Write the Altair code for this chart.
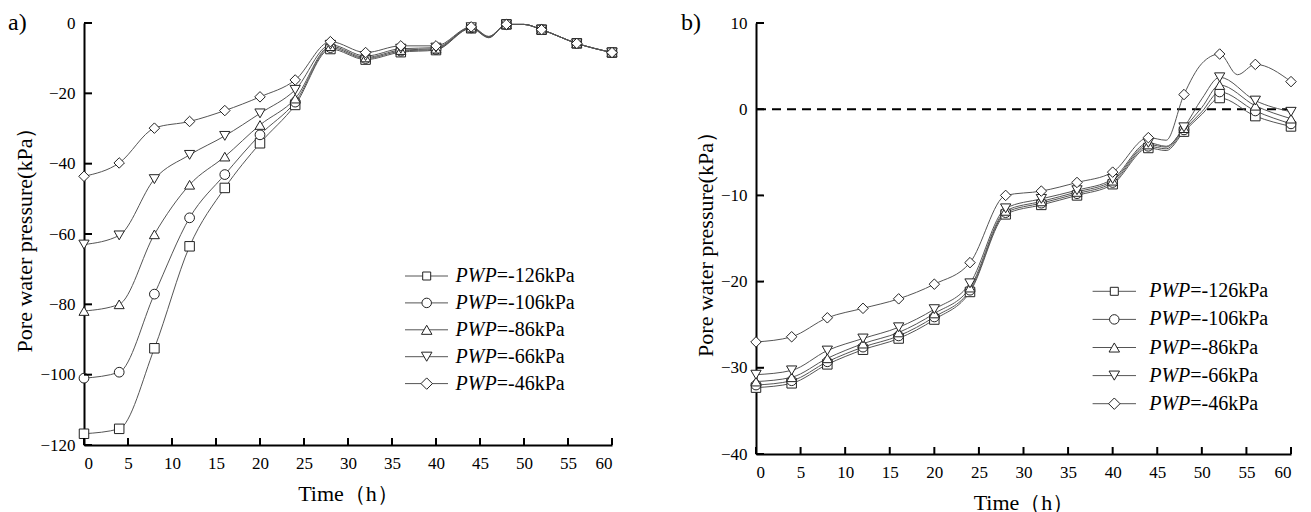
import altair as alt
import pandas as pd

SERIES = ["PWP=-126kPa", "PWP=-106kPa", "PWP=-86kPa", "PWP=-66kPa", "PWP=-46kPa"]
SHAPES = ["square", "circle", "triangle-up", "triangle-down", "diamond"]

X_TICKS = [0, 5, 10, 15, 20, 25, 30, 35, 40, 45, 50, 55, 60]
A_Y_TICKS = [0, -20, -40, -60, -80, -100, -120]
B_Y_TICKS = [10, 0, -10, -20, -30, -40]

# panel a)
TIME_A = [0, 4, 8, 12, 16, 20, 24, 28, 32, 36, 40, 44, 46, 48, 50, 52, 56, 60]
A_126 = [-116.8, -115.4, -92.5, -63.5, -46.9, -34.2, -23.3, -7.4, -10.4, -8.3, -7.7, -1.5, -4.2, -0.4, -0.4, -1.9, -5.8, -8.4]
A_106 = [-101.0, -99.3, -77.1, -55.4, -43.1, -31.8, -22.5, -7.0, -10.1, -8.0, -7.5, -1.4, -4.1, -0.4, -0.4, -1.9, -5.8, -8.4]
A_86 = [-81.9, -80.0, -60.1, -46.0, -38.0, -29.0, -21.5, -6.6, -9.8, -7.7, -7.3, -1.3, -4.0, -0.4, -0.4, -1.9, -5.8, -8.4]
A_66 = [-63.0, -60.4, -44.4, -37.5, -32.1, -25.7, -19.0, -6.2, -9.4, -7.3, -7.0, -1.2, -3.9, -0.4, -0.4, -1.9, -5.8, -8.4]
A_46 = [-43.6, -39.8, -29.9, -28.0, -24.9, -21.0, -16.2, -5.3, -8.4, -6.5, -6.5, -1.1, -3.8, -0.4, -0.4, -1.9, -5.8, -8.4]

# panel b)
TIME_B = [0, 4, 8, 12, 16, 20, 24, 28, 32, 36, 40, 44, 46, 48, 50, 52, 54, 56, 60]
B_126 = [-32.3, -31.8, -29.6, -27.9, -26.6, -24.4, -21.2, -12.2, -11.1, -10.0, -8.7, -4.5, -4.8, -2.6, -0.6, 1.3, None, -0.8, -2.0]
B_106 = [-32.0, -31.5, -29.3, -27.6, -26.3, -24.1, -21.0, -12.0, -10.9, -9.8, -8.5, -4.3, -4.6, -2.4, -0.3, 2.0, None, -0.2, -1.7]
B_86 = [-31.6, -31.1, -28.9, -27.2, -25.9, -23.7, -20.7, -11.8, -10.7, -9.6, -8.3, -4.1, -4.4, -2.2, 0.2, 2.8, None, 0.4, -1.1]
B_66 = [-30.8, -30.3, -28.0, -26.6, -25.3, -23.2, -20.2, -11.5, -10.4, -9.4, -8.1, -3.9, -4.3, -2.1, 1.2, 3.7, None, 1.0, -0.3]
B_46 = [-27.0, -26.4, -24.2, -23.1, -22.0, -20.3, -17.8, -10.0, -9.5, -8.5, -7.3, -3.3, -3.6, 1.7, 5.3, 6.4, 4.0, 5.2, 3.2]

SERIF = "Liberation Serif"
LINE_COLOR = "#555555"
PLOT_SIZES = [90, 110, 150, 150, 150]
LEG_SIZES = [64, 90, 110, 110, 130]
MINUS_EXPR = "replace(format(datum.value, 'd'), '-', '\u2212')"


def long_df(times, cols):
    rows = []
    for i, vals in enumerate(cols):
        for t, v in zip(times, vals):
            if v is None:
                continue
            rows.append({"t": t, "v": v, "s": SERIES[i], "o": i, "mk": t % 4 == 0})
    return pd.DataFrame(rows)


ONE = pd.DataFrame({"k": [0]})


def panel(df, ydom, yticks, W, H, tag, title_x, leg, zero_line=False):
    xs = alt.Scale(domain=[0, 60], nice=False)
    ys = alt.Scale(domain=ydom, nice=False)
    x_axis = alt.Axis(values=X_TICKS, ticks=False, labelPadding=10, title="Time（h）",
                      titleY=55, titleBaseline="alphabetic", labelExpr=MINUS_EXPR)
    y_axis = alt.Axis(values=yticks, ticks=False, labelPadding=9,
                      title="Pore water pressure(kPa）", titleX=title_x, titleY=H / 2,
                      titleBaseline="alphabetic", titleAngle=-90, labelExpr=MINUS_EXPR)

    layers = []
    if zero_line:
        layers.append(
            alt.Chart(pd.DataFrame({"v": [0]})).mark_rule(
                color="black", strokeWidth=2, strokeDash=[9, 6]
            ).encode(y=alt.Y("v:Q", scale=ys, axis=y_axis))
        )
    lines = alt.Chart(df).mark_line(interpolate="monotone", strokeWidth=1).encode(
        x=alt.X("t:Q", scale=xs, axis=x_axis),
        y=alt.Y("v:Q", scale=ys, axis=y_axis),
        color=alt.Color("s:N", scale=alt.Scale(domain=SERIES, range=[LINE_COLOR] * 5), legend=None),
        detail="s:N",
    )
    pts = alt.Chart(df).transform_filter("datum.mk").mark_point(
        filled=True, fill="white", stroke="#222222", strokeWidth=1, opacity=1
    ).encode(
        x=alt.X("t:Q", scale=xs, axis=x_axis),
        y=alt.Y("v:Q", scale=ys, axis=y_axis),
        shape=alt.Shape("s:N", scale=alt.Scale(domain=SERIES, range=SHAPES), legend=None),
        size=alt.Size("o:O", scale=alt.Scale(domain=[0, 1, 2, 3, 4], range=PLOT_SIZES), legend=None),
        order=alt.Order("o:Q"),
    )
    xt = alt.Chart(pd.DataFrame({"t": X_TICKS})).mark_rule(color="black", strokeWidth=2).encode(
        x=alt.X("t:Q", scale=xs, axis=x_axis), y=alt.value(H), y2=alt.value(H - 7)
    )
    yt = alt.Chart(pd.DataFrame({"v": yticks})).mark_rule(color="black", strokeWidth=2).encode(
        y=alt.Y("v:Q", scale=ys, axis=y_axis), x=alt.value(0), x2=alt.value(8)
    )
    layers += [lines, pts, xt, yt]

    # tag a) / b)
    layers.append(
        alt.Chart(ONE).mark_text(align="left", baseline="top", font=SERIF, fontSize=24, color="black").encode(
            x=alt.value(tag[1]), y=alt.value(-12), text=alt.value(tag[0])
        )
    )

    # legend
    lx1, lx2, mx, sep, ly0, dy = leg
    for i, name in enumerate(SERIES):
        ry = ly0 + i * dy
        ital, rest = name.split("=", 1)
        layers.append(alt.Chart(ONE).mark_rule(color=LINE_COLOR, strokeWidth=1).encode(
            x=alt.value(lx1), x2=alt.value(lx2), y=alt.value(ry)))
        layers.append(alt.Chart(ONE).mark_point(
            filled=True, fill="white", stroke="#222222", strokeWidth=1, opacity=1
        ).encode(x=alt.value(mx), y=alt.value(ry), shape=alt.value(SHAPES[i]), size=alt.value(LEG_SIZES[i])))
        layers.append(alt.Chart(ONE).mark_text(
            align="right", baseline="middle", font=SERIF, fontSize=20, fontStyle="italic", color="black"
        ).encode(x=alt.value(sep), y=alt.value(ry), text=alt.value(ital)))
        layers.append(alt.Chart(ONE).mark_text(
            align="left", baseline="middle", font=SERIF, fontSize=20, color="black"
        ).encode(x=alt.value(sep), y=alt.value(ry), text=alt.value("=" + rest)))

    return alt.layer(*layers).properties(width=W, height=H)


df_a = long_df(TIME_A, [A_126, A_106, A_86, A_66, A_46])
df_b = long_df(TIME_B, [B_126, B_106, B_86, B_66, B_46])

left = panel(df_a, [-120, 0], A_Y_TICKS, 528, 422, ("a)", -76), -53,
             (321, 364, 342.7, 412.7, 253, 26.9))
right = panel(df_b, [-40, 10], B_Y_TICKS, 535, 431, ("b)", -75), -44,
              (336.6, 380, 358.3, 434.3, 268.3, 28.1), zero_line=True)

chart = alt.hconcat(left, right, spacing=61).properties(
    padding={"left": 0, "top": 3, "right": 0, "bottom": 0}
).configure_view(stroke=None).configure_axis(
    domainColor="black", domainWidth=2, grid=False,
    labelFont=SERIF, labelFontSize=17, labelColor="black",
    titleFont=SERIF, titleFontSize=22, titleFontWeight="normal", titleColor="black",
)

chart.save("out.html", embed_options={"renderer": "svg", "actions": False})
